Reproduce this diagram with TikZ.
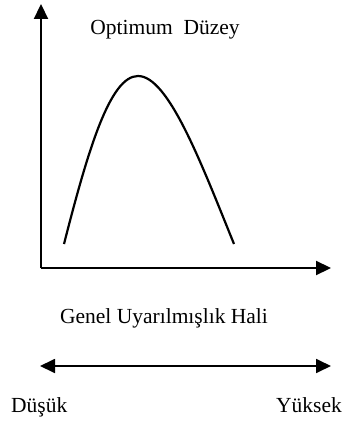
\documentclass[tikz,border=0pt]{standalone}
\usepackage{fontspec}
\setmainfont{Liberation Serif}
\usepackage{tikz}
\usetikzlibrary{arrows.meta}

\begin{document}
\begin{tikzpicture}[x=1pt,y=-1pt,
  axis/.style={line width=2.2pt,-{Triangle[length=15pt,width=14pt]}},
  levelline/.style={line width=1.8pt,{Triangle[length=15pt,width=14pt]}-{Triangle[length=15pt,width=14pt]}},
  lbl/.style={font=\fontsize{21.5}{25}\selectfont,inner sep=0pt,anchor=base}]
\useasboundingbox (0,0) rectangle (343,428);
\coordinate (o) at (41,268);
\coordinate (ytop) at (41,4);
\coordinate (xend) at (331,268);
\coordinate (lo) at (40,366);
\coordinate (hi) at (331,366);
\draw[axis] (o) -- (ytop);
\draw[axis] (o) -- (xend);
\draw[line width=2.2pt] (64,244) .. controls (88,150) and (110,76) .. (138,76)
  .. controls (168,76) and (200,160) .. (234,244);
\node[lbl] (opt) at (165,35) {Optimum\ \ Düzey};
\node[lbl] (genel) at (164,323) {Genel Uyarılmışlık Hali};
\draw[levelline] (lo) -- (hi);
\node[lbl,anchor=base west] (dusuk) at (11,412) {Düşük};
\node[lbl,anchor=base east] (yuksek) at (342,412) {Yüksek};
\end{tikzpicture}
\end{document}
